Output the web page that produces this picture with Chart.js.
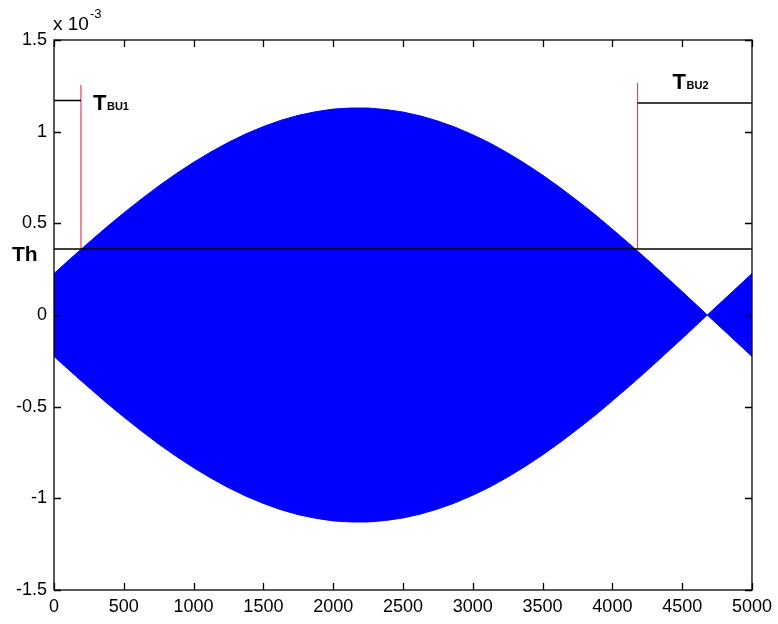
<!DOCTYPE html>
<html>
<head>
<meta charset="utf-8">
<script src="https://cdn.jsdelivr.net/npm/chart.js@4/dist/chart.umd.min.js"></script>
<style>
html,body{margin:0;padding:0;background:#fff;}
#wrap{width:778px;height:624px;}
</style>
</head>
<body>
<div id="wrap"><canvas id="c" width="778" height="624"></canvas></div>
<script>
// Sample positions along x (samples) and envelope amplitude (units of 1e-3)
const sampleX  = [0, 125, 250, 375, 500, 625, 750, 875, 1000, 1125, 1250, 1375, 1500, 1625, 1750, 1875, 2000, 2125, 2250, 2375, 2500, 2625, 2750, 2875, 3000, 3125, 3250, 3375, 3500, 3625, 3750, 3875, 4000, 4125, 4250, 4375, 4500, 4680, 5000];
const envelope = [0.226, 0.312, 0.396, 0.478, 0.557, 0.632, 0.704, 0.771, 0.833, 0.890, 0.942, 0.988, 1.028, 1.062, 1.089, 1.109, 1.123, 1.129, 1.129, 1.121, 1.107, 1.086, 1.058, 1.024, 0.983, 0.937, 0.884, 0.826, 0.763, 0.695, 0.623, 0.548, 0.468, 0.386, 0.302, 0.215, 0.128, 0.0, 0.226];
// Threshold and burst markers
const thresholdY = 0.36;
const tbu1X = 193, tbu1Top = 1.255, tbu1Bar = 1.17;
const tbu2X = 4180, tbu2Top = 1.265, tbu2Bar = 1.157;
const xTicks = [0, 500, 1000, 1500, 2000, 2500, 3000, 3500, 4000, 4500, 5000];
const yTicks = [-1.5, -1, -0.5, 0, 0.5, 1, 1.5];

const upper = sampleX.map((x, i) => ({x: x, y: envelope[i]}));
const lower = sampleX.map((x, i) => ({x: x, y: -envelope[i]}));

const FONT = '"Liberation Sans", Arial, Helvetica, sans-serif';

const overlay = {
  id: 'overlay',
  afterDraw(chart) {
    const ctx = chart.ctx, a = chart.chartArea;
    const xs = chart.scales.x, ys = chart.scales.y;
    ctx.save();
    ctx.strokeStyle = '#000';
    ctx.lineWidth = 1.3;
    ctx.strokeRect(a.left, a.top, a.right - a.left, a.bottom - a.top);
    const tl = 7;
    ctx.beginPath();
    xTicks.forEach(v => {
      const p = Math.round(xs.getPixelForValue(v)) + 0.5;
      ctx.moveTo(p, a.bottom); ctx.lineTo(p, a.bottom - tl);
      ctx.moveTo(p, a.top); ctx.lineTo(p, a.top + tl);
    });
    yTicks.forEach(v => {
      const p = Math.round(ys.getPixelForValue(v)) + 0.5;
      ctx.moveTo(a.left, p); ctx.lineTo(a.left + tl, p);
      ctx.moveTo(a.right, p); ctx.lineTo(a.right - tl, p);
    });
    ctx.stroke();

    ctx.fillStyle = '#000';
    ctx.textBaseline = 'alphabetic';
    ctx.textAlign = 'left';
    // exponent label
    ctx.font = '19px ' + FONT;
    ctx.fillText('x 10', a.left - 1, 30);
    const w = ctx.measureText('x 10').width;
    ctx.font = '13px ' + FONT;
    ctx.fillText('-3', a.left - 1 + w + 1, 18);
    // Th
    ctx.font = 'bold 21px ' + FONT;
    ctx.fillText('Th', 12, ys.getPixelForValue(thresholdY) + 12);
    // TBU1
    const t1x = xs.getPixelForValue(tbu1X) + 12;
    const t1y = ys.getPixelForValue(tbu1Bar) + 9;
    ctx.font = 'bold 22px ' + FONT;
    ctx.fillText('T', t1x, t1y);
    ctx.font = 'bold 11px ' + FONT;
    ctx.fillText('BU1', t1x + 14, t1y);
    // TBU2
    const t2x = xs.getPixelForValue(tbu2X) + 35;
    const t2y = ys.getPixelForValue(tbu2Bar) - 14;
    ctx.font = 'bold 22px ' + FONT;
    ctx.fillText('T', t2x, t2y);
    ctx.font = 'bold 11px ' + FONT;
    ctx.fillText('BU2', t2x + 14, t2y);
    ctx.restore();
  }
};

const red = '#e8405a';
new Chart(document.getElementById('c'), {
  type: 'line',
  data: {
    datasets: [
      {data: upper, borderColor: '#0000ff', backgroundColor: '#0000ff', borderWidth: 1, fill: '+1', pointRadius: 0, tension: 0, order: 10},
      {data: lower, borderColor: '#0000ff', backgroundColor: '#0000ff', borderWidth: 1, fill: false, pointRadius: 0, tension: 0, order: 10},
      {data: [{x: 0, y: thresholdY}, {x: 5000, y: thresholdY}], borderColor: '#000', borderWidth: 1.5, pointRadius: 0, fill: false, order: 1},
      {data: [{x: tbu1X, y: thresholdY}, {x: tbu1X, y: tbu1Top}], borderColor: red, borderWidth: 1.2, pointRadius: 0, fill: false, order: 2},
      {data: [{x: 0, y: tbu1Bar}, {x: tbu1X, y: tbu1Bar}], borderColor: '#000', borderWidth: 1.5, pointRadius: 0, fill: false, order: 1},
      {data: [{x: tbu2X, y: thresholdY}, {x: tbu2X, y: tbu2Top}], borderColor: red, borderWidth: 1.2, pointRadius: 0, fill: false, order: 2},
      {data: [{x: tbu2X, y: tbu2Bar}, {x: 5000, y: tbu2Bar}], borderColor: '#000', borderWidth: 1.5, pointRadius: 0, fill: false, order: 1}
    ]
  },
  options: {
    responsive: false,
    animation: false,
    layout: {padding: {top: 40, right: 25, left: 0, bottom: 0}},
    plugins: {legend: {display: false}, tooltip: {enabled: false}},
    scales: {
      x: {
        type: 'linear', min: 0, max: 5000,
        afterFit(s) { s.height = 34; },
        afterBuildTicks(s) { s.ticks = xTicks.map(v => ({value: v})); },
        grid: {display: false, drawTicks: false},
        border: {display: false},
        ticks: {color: '#000', font: {family: FONT, size: 18}, padding: 6, maxRotation: 0, autoSkip: false, callback: v => String(v)}
      },
      y: {
        type: 'linear', min: -1.5, max: 1.5,
        afterFit(s) { s.width = 54; },
        afterBuildTicks(s) { s.ticks = yTicks.map(v => ({value: v})); },
        grid: {display: false, drawTicks: false},
        border: {display: false},
        ticks: {color: '#000', font: {family: FONT, size: 18}, padding: 7, autoSkip: false, callback: v => String(v)}
      }
    }
  },
  plugins: [overlay]
});
</script>
</body>
</html>
